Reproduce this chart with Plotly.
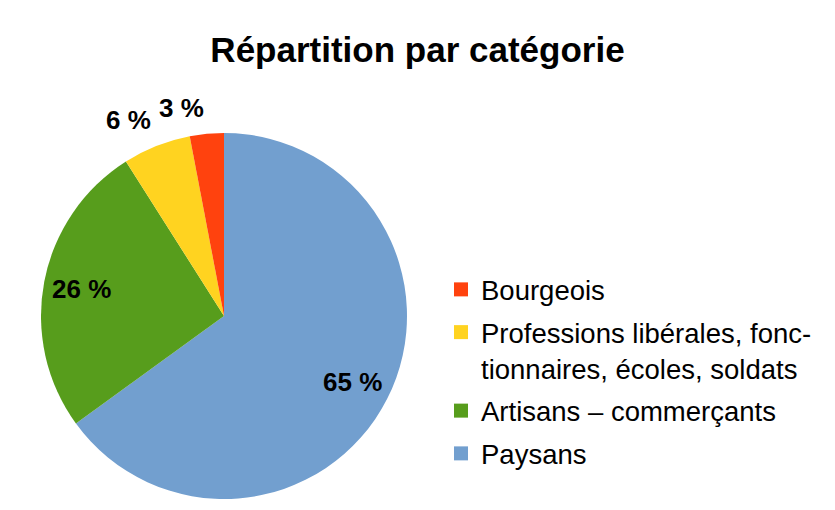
import math
import plotly.graph_objects as go

# ---- data ----
categories = [
    "Bourgeois",
    "Professions libérales, fonc-<br>tionnaires, écoles, soldats",
    "Artisans – commerçants",
    "Paysans",
]
values = [3, 6, 26, 65]
colors = ["#FF420E", "#FFD320", "#579D1C", "#729FCF"]
title_text = "Répartition par catégorie"

# ---- layout constants (style) ----
W, H = 835, 510
OFF = 8  # page body margin offset
CX, CY, R = 224 - OFF, 316 - OFF, 183
FONT = "Liberation Sans"
label_mode = ["outside", "outside", "inside", "inside"]

fig = go.Figure()
# slices go counterclockwise from 12 o'clock in category order;
# equivalently clockwise in reversed order
fig.add_trace(go.Pie(
    labels=categories[::-1], values=values[::-1],
    marker=dict(colors=colors[::-1], line=dict(width=0)),
    sort=False, direction="clockwise", rotation=0,
    textinfo="none", hoverinfo="label+percent", showlegend=False,
    domain=dict(x=[(CX - R) / W, (CX + R) / W],
                y=[1 - (CY + R) / H, 1 - (CY - R) / H]),
))

# legend entries (one per category, so gaps can be set)
for lab, col in zip(categories, colors):
    fig.add_trace(go.Scatter(
        x=[None], y=[None], mode="markers", name=lab, legendgroup=lab,
        marker=dict(symbol="square", size=14, color=col), hoverinfo="skip",
    ))

# percentage labels computed from values
total = sum(values)
cum = 0
for v, mode in zip(values, label_mode):
    frac = (cum + v / 2) / total
    cum += v
    th = 2 * math.pi * frac
    s, c = math.sin(th), math.cos(th)
    txt = f"{round(v / total * 100)} %"
    if mode == "inside":
        r = 0.79 * R
        px, py = CX - r * s, CY - r * c
        xa, ya = "center", "middle"
    else:
        r = 1.05 * R
        px, py = CX - r * s, CY - r * c
        xa = "right" if s > 0 else "left"
        ya = "bottom" if c > 0 else "top"
    fig.add_annotation(
        x=px / W, y=1 - py / H, xref="paper", yref="paper",
        text=txt, showarrow=False, xanchor=xa, yanchor=ya,
        font=dict(family=FONT, size=26, color="black", weight="bold"),
    )

fig.update_layout(
    width=W, height=H,
    margin=dict(l=0, r=0, t=0, b=0),
    paper_bgcolor="white", plot_bgcolor="white",
    title=dict(text=title_text, x=(417.5 - OFF) / W, xanchor="center",
               y=1 - (50 - OFF) / H, yanchor="middle",
               font=dict(family=FONT, size=35, color="black", weight="bold")),
    xaxis=dict(visible=False), yaxis=dict(visible=False),
    legend=dict(
        x=(441 - OFF) / W, xanchor="left", y=1 - (265 - OFF) / H, yanchor="top",
        font=dict(family=FONT, size=27.5, color="black"),
        valign="top", tracegroupgap=4, bgcolor="rgba(0,0,0,0)",
    ),
    showlegend=True,
)

fig.write_html("out.html")
